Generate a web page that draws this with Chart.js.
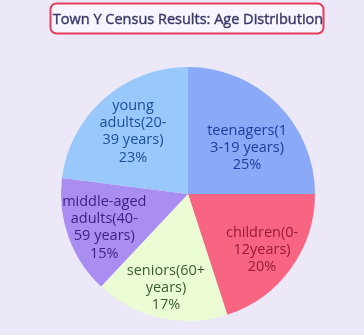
<!DOCTYPE html>
<html>
<head>
<meta charset="utf-8">
<script src="https://cdn.jsdelivr.net/npm/chart.js@4"></script>
<style>
  html, body { margin: 0; padding: 0; background: #ece8f8; }
  #wrap { width: 364px; height: 335px; position: relative; }
</style>
</head>
<body>
<div id="wrap"><canvas id="pie"></canvas></div>
<script>
// Data (clockwise from 12 o'clock)
const labels = ['teenagers(13-19 years)', 'children(0-12years)', 'seniors(60+ years)', 'middle-aged adults(40-59 years)', 'young adults(20-39 years)'];
const labelLines = [
  ['teenagers(1', '3-19 years)'],
  ['children(0-', '12years)'],
  ['seniors(60+', 'years)'],
  ['middle-aged', 'adults(40-', '59 years)'],
  ['young', 'adults(20-', '39 years)']
];
const percents = [25, 20, 17, 15, 23];
const titleText = 'Town Y Census Results: Age Distribution';

const fills = ['#8aa9f6', '#f76583', '#ebfcd4', '#a98df1', '#99c9fa'];
const textColors = ['#1d3d9e', '#9a1a3a', '#3d5b32', '#3b1f80', '#1e4c9c'];

// Title box drawn above the chart area
const titleBox = {
  id: 'titleBox',
  beforeDraw(chart) {
    const c = chart.ctx;
    const x = 50.5, y = 3.5, w = 273, h = 30, r = 6;
    c.save();
    c.beginPath();
    c.roundRect(x, y, w, h, r);
    c.fillStyle = '#f7f5fd';
    c.fill();
    c.lineWidth = 2;
    c.strokeStyle = '#e63c5c';
    c.stroke();
    c.fillStyle = '#3a3a68';
    c.strokeStyle = '#3a3a68';
    c.lineWidth = 0.4;
    c.font = '14.5px "Open Sans", sans-serif';
    c.textAlign = 'center';
    c.textBaseline = 'middle';
    c.fillText(titleText, x + w / 2 + 1, y + h / 2 + 1);
    c.strokeText(titleText, x + w / 2 + 1, y + h / 2 + 1);
    c.restore();
  }
};

// Labels inside each slice
const sliceLabels = {
  id: 'sliceLabels',
  afterDatasetsDraw(chart) {
    const c = chart.ctx;
    const meta = chart.getDatasetMeta(0);
    const dist = [0.59, 0.73, 0.76, 0.71, 0.655];
    const turn = [7, 1, 0.6, -2, 0];
    c.save();
    c.font = '14.5px "Open Sans", sans-serif';
    c.textAlign = 'center';
    c.textBaseline = 'middle';
    meta.data.forEach((arc, i) => {
      const mid = (arc.startAngle + arc.endAngle) / 2 + turn[i] * Math.PI / 180;
      const rr = arc.outerRadius * dist[i];
      const cx = arc.x + Math.cos(mid) * rr;
      const cy = arc.y + Math.sin(mid) * rr;
      const lines = labelLines[i].concat([percents[i] + '%']);
      const lh = 17.3;
      const top = cy - (lines.length - 1) * lh / 2;
      c.fillStyle = textColors[i];
      lines.forEach((t, j) => c.fillText(t, cx, top + j * lh));
    });
    c.restore();
  }
};

new Chart(document.getElementById('pie'), {
  type: 'pie',
  data: {
    labels: labels,
    datasets: [{
      data: percents,
      backgroundColor: fills,
      borderWidth: 0
    }]
  },
  options: {
    responsive: true,
    maintainAspectRatio: false,
    animation: false,
    layout: { padding: { left: 61, right: 49, top: 67, bottom: 14 } },
    plugins: {
      legend: { display: false },
      tooltip: { enabled: false },
      title: { display: false }
    }
  },
  plugins: [titleBox, sliceLabels]
});
</script>
</body>
</html>
